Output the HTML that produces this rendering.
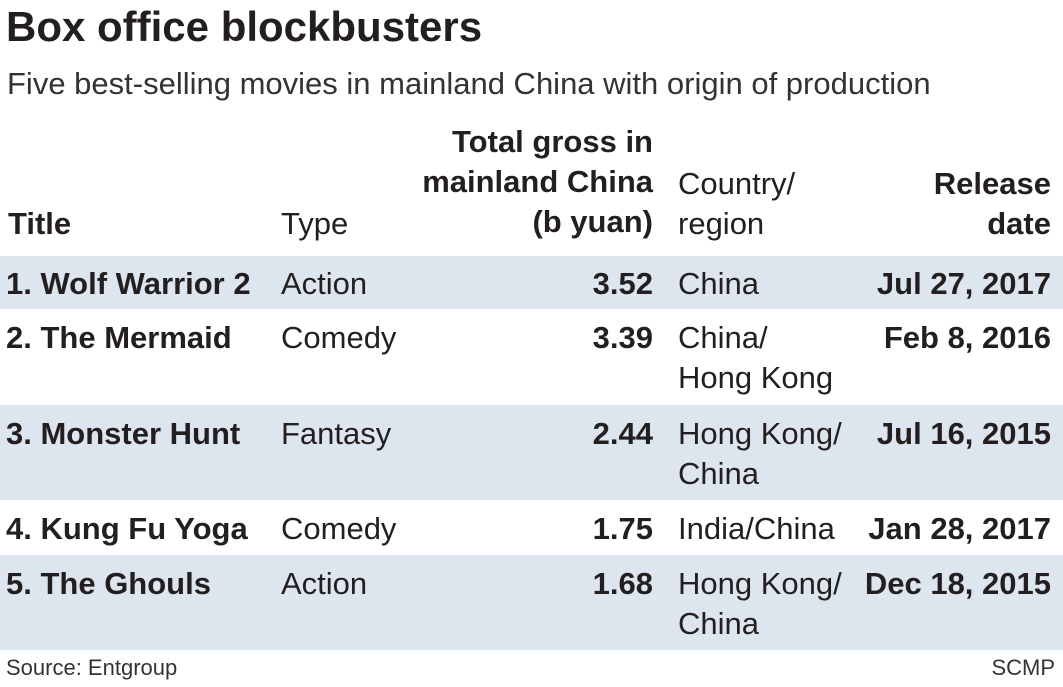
<!DOCTYPE html>
<html><head><meta charset="utf-8"><style>
html,body{margin:0;padding:0;background:#fff;}
body{width:1063px;height:687px;position:relative;overflow:hidden;font-family:"Liberation Sans Narrow","Liberation Sans",sans-serif;color:#231f20;}
.t{position:absolute;white-space:nowrap;font-size:31px;line-height:40px;}
.b{font-weight:bold;}
.r{text-align:right;}
.band{position:absolute;left:0;width:1063px;background:#dde6ee;}
</style></head><body>
<div class="t b" style="left:6px;top:2px;font-size:42px;line-height:50px;">Box office blockbusters</div>
<div class="t" style="left:7px;top:64px;font-size:31px;color:#333;">Five best-selling movies in mainland China with origin of production</div>

<div class="t b r" style="right:410px;top:122px;">Total gross in<br>mainland China<br>(b yuan)</div>
<div class="t" style="left:678px;top:164px;">Country/<br>region</div>
<div class="t b r" style="right:12px;top:164px;">Release<br>date</div>
<div class="t b" style="left:8px;top:204px;">Title</div>
<div class="t" style="left:281px;top:204px;">Type</div>

<div class="band" style="top:256px;height:53px;"></div>
<div class="band" style="top:405px;height:95px;"></div>
<div class="band" style="top:555px;height:95px;"></div>

<div class="t b" style="left:6px;top:264px;">1. Wolf Warrior 2</div>
<div class="t" style="left:281px;top:264px;">Action</div>
<div class="t b r" style="right:410px;top:264px;">3.52</div>
<div class="t" style="left:678px;top:264px;">China</div>
<div class="t b r" style="right:12px;top:264px;">Jul 27, 2017</div>

<div class="t b" style="left:6px;top:318px;">2. The Mermaid</div>
<div class="t" style="left:281px;top:318px;">Comedy</div>
<div class="t b r" style="right:410px;top:318px;">3.39</div>
<div class="t" style="left:678px;top:318px;">China/<br>Hong Kong</div>
<div class="t b r" style="right:12px;top:318px;">Feb 8, 2016</div>

<div class="t b" style="left:6px;top:414px;">3. Monster Hunt</div>
<div class="t" style="left:281px;top:414px;">Fantasy</div>
<div class="t b r" style="right:410px;top:414px;">2.44</div>
<div class="t" style="left:678px;top:414px;">Hong Kong/<br>China</div>
<div class="t b r" style="right:12px;top:414px;">Jul 16, 2015</div>

<div class="t b" style="left:6px;top:509px;">4. Kung Fu Yoga</div>
<div class="t" style="left:281px;top:509px;">Comedy</div>
<div class="t b r" style="right:410px;top:509px;">1.75</div>
<div class="t" style="left:678px;top:509px;">India/China</div>
<div class="t b r" style="right:12px;top:509px;">Jan 28, 2017</div>

<div class="t b" style="left:6px;top:564px;">5. The Ghouls</div>
<div class="t" style="left:281px;top:564px;">Action</div>
<div class="t b r" style="right:410px;top:564px;">1.68</div>
<div class="t" style="left:678px;top:564px;">Hong Kong/<br>China</div>
<div class="t b r" style="right:12px;top:564px;">Dec 18, 2015</div>

<div class="t" style="left:6px;top:655px;font-size:22px;line-height:26px;color:#333;">Source: Entgroup</div>
<div class="t r" style="right:8px;top:655px;font-size:22px;line-height:26px;color:#333;">SCMP</div>
</body></html>
